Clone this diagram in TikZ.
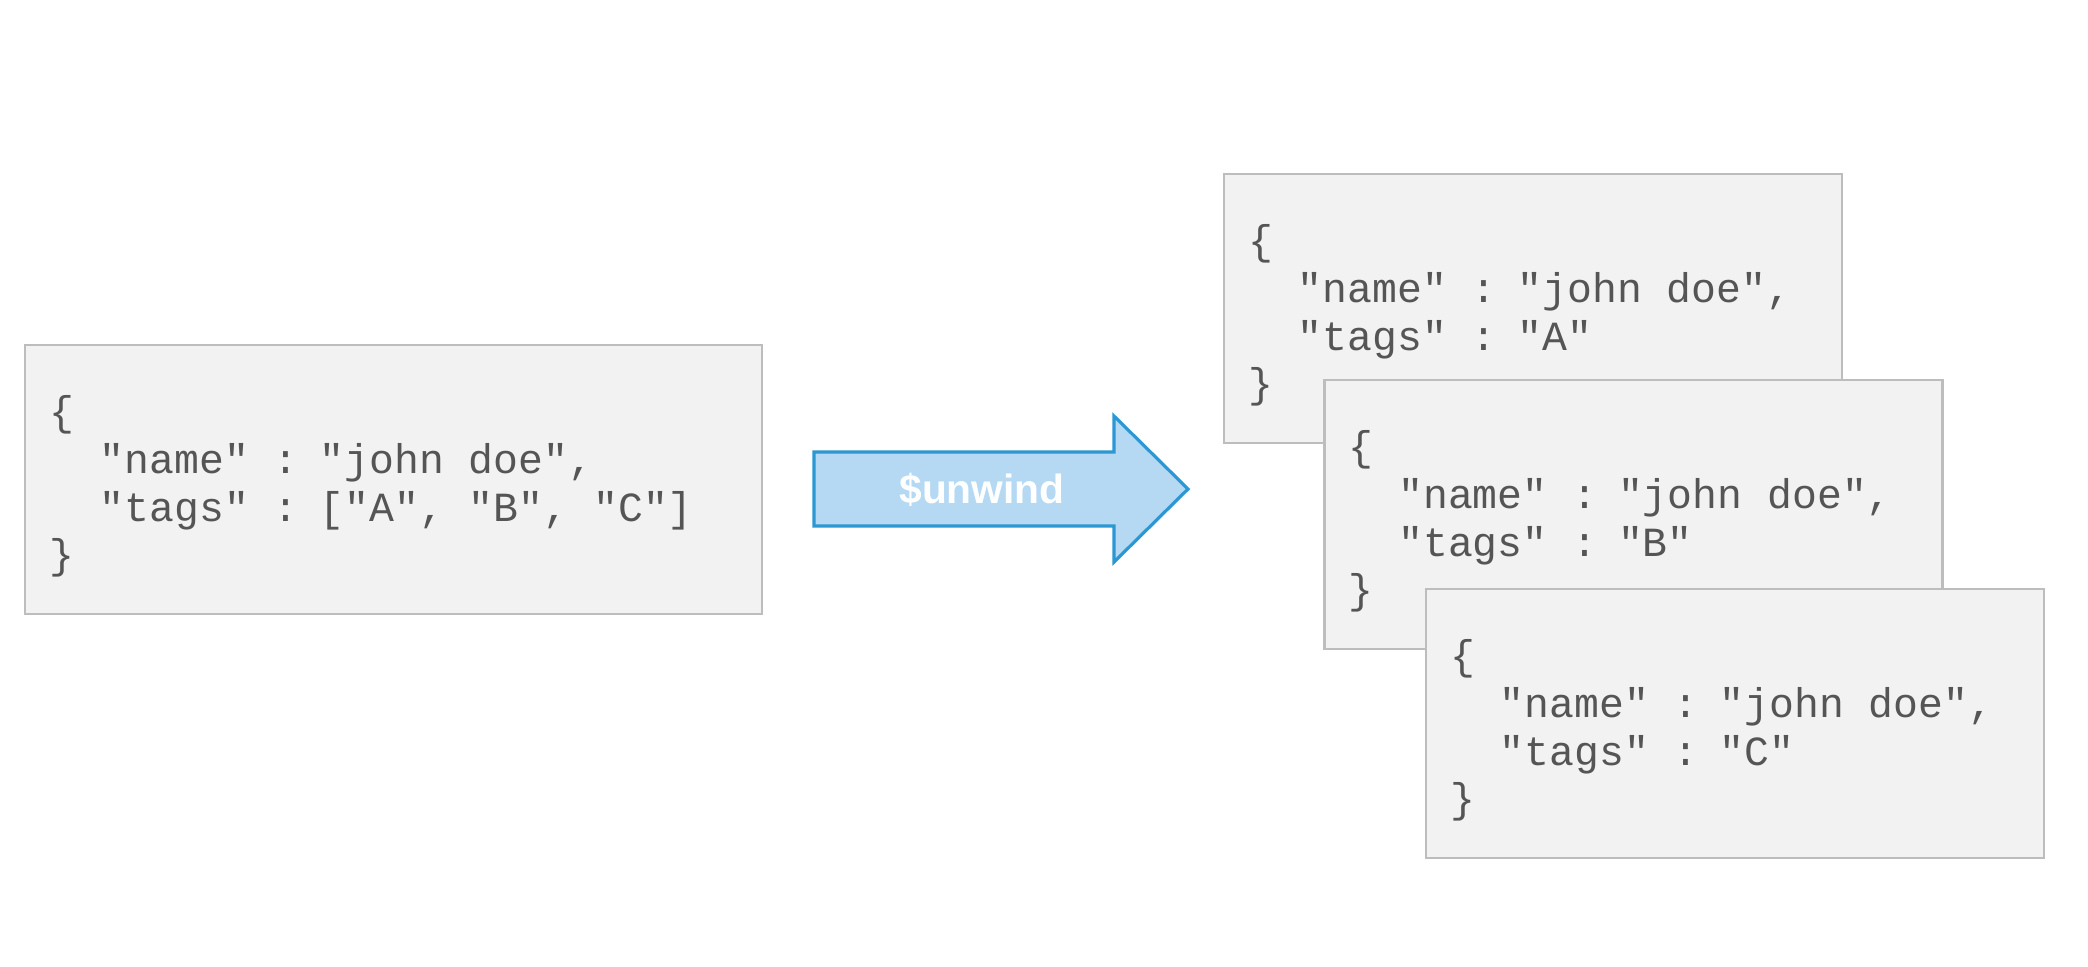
\documentclass[tikz,border=0pt]{standalone}
\usepackage{fontspec}
\setmainfont{Liberation Sans}
\setmonofont{Liberation Mono}
\definecolor{boxfill}{HTML}{F2F2F2}
\definecolor{boxline}{HTML}{BDBDBD}
\definecolor{codegray}{HTML}{555555}
\definecolor{arrowfill}{HTML}{B5D8F3}
\definecolor{arrowline}{HTML}{2B97D3}
\newcommand{\ind}{\hphantom{xx}}
\newcommand{\openbr}{\rule{0pt}{0.44cm}\{}
\newcommand{\codespaces}{\spaceskip=0.6em\relax}
\tikzset{
    jsonbox/.style={draw=boxline, fill=boxfill, line width=0.6pt,
        minimum height=2.69cm, align=left, text=codegray,
        font=\ttfamily\fontsize{11.8}{13.6}\selectfont,
        execute at begin node=\codespaces},
    docbox/.style={jsonbox, inner xsep=0.24cm, text width=5.7cm},
}
\begin{document}
\begin{tikzpicture}
    \useasboundingbox (0,0) rectangle (20.88,-9.66);
    % input document
    \node[jsonbox, inner xsep=0.25cm, text width=6.87cm] (input) at (3.935,-4.795)
        {\openbr\\ \ind"name" : "john doe",\\ \ind"tags" : ["A", "B", "C"]\\ \}};
    % the stage
    \draw[arrowline, fill=arrowfill, line width=0.9pt, line join=miter]
        (8.14,-4.52) -- (11.14,-4.52) -- (11.14,-4.16) -- (11.88,-4.89)
        -- (11.14,-5.62) -- (11.14,-5.26) -- (8.14,-5.26) -- cycle;
    \node[text=white, font=\bfseries\fontsize{11.6}{14}\selectfont] (unwind) at (9.82,-4.90) {\$unwind};
    % output documents
    \node[docbox] (outa) at (15.33,-3.085)
        {\openbr\\ \ind"name" : "john doe",\\ \ind"tags" : "A"\\ \}};
    \node[docbox] (outb) at (16.335,-5.145)
        {\openbr\\ \ind"name" : "john doe",\\ \ind"tags" : "B"\\ \}};
    \node[docbox] (outc) at (17.35,-7.235)
        {\openbr\\ \ind"name" : "john doe",\\ \ind"tags" : "C"\\ \}};
\end{tikzpicture}
\end{document}
